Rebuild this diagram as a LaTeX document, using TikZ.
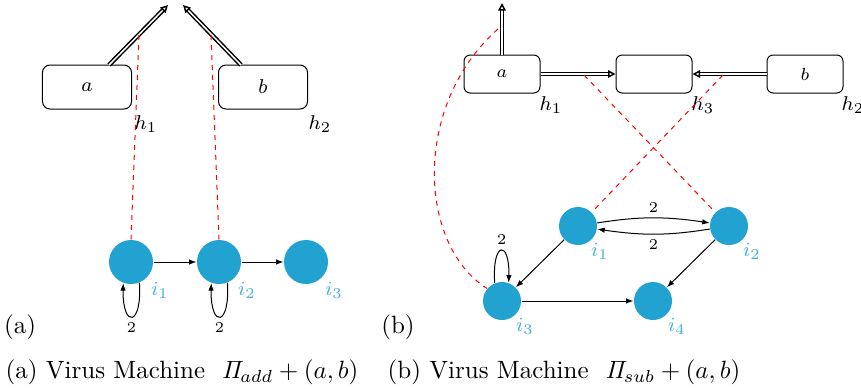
\documentclass[tikz,border=0pt]{standalone}
\usetikzlibrary{arrows.meta,bending}
\definecolor{virus}{RGB}{34,162,208}
\definecolor{virustext}{RGB}{70,175,220}
\begin{document}
\begin{tikzpicture}[x=0.4pt,y=-0.4pt,
  hostbox/.style={draw,rounded corners=3pt,minimum width=35.6pt,minimum height=17.6pt,font=\footnotesize},
  smallhost/.style={hostbox,minimum width=30.4pt,minimum height=15.2pt,rounded corners=2.5pt,font=\fontsize{7}{8}\selectfont},
  hostlabel/.style={font=\footnotesize,inner sep=0pt},
  cellA/.style={circle,fill=virus,minimum size=17.6pt,inner sep=0pt},
  cellB/.style={circle,fill=virus,minimum size=15.2pt,inner sep=0pt},
  cellname/.style={text=virustext,font=\footnotesize,inner sep=0pt},
  transfer/.style={draw,semithick,double=white,double distance=0.6pt,-{Triangle[open,length=3pt,width=3pt]}},
  flow/.style={draw,thin,-{Latex[length=3pt,width=2.2pt]}},
  weight/.style={font=\fontsize{6}{7}\selectfont,inner sep=1pt},
  link/.style={draw,red,thin,dashed,dash pattern=on 2pt off 2pt},
  captext/.style={font=\normalsize,inner sep=0pt}]
\useasboundingbox (0,0) rectangle (861,388);

% ---------- (a) addition machine ----------
\node[hostbox] (ha) at (87,87) {$a$};
\node[hostbox] (hb) at (263,87) {$b$};
\node[hostlabel] (lh1) at (146,124) {$h_1$};
\node[hostlabel] (lh2) at (320,124) {$h_2$};
\coordinate (outa) at (168,5);
\coordinate (outb) at (183,5);
\coordinate (sa) at (109,65);
\coordinate (sb) at (241,65);
\path[transfer] (sa) -- (outa);
\path[transfer] (sb) -- (outb);
\coordinate (ma) at (139,35);
\coordinate (mb) at (211,35);

\node[cellA] (a1) at (131,262) {};
\node[cellA] (a2) at (219,262) {};
\node[cellA] (a3) at (306,262) {};
\node[cellname] (la1) at (160,290) {$i_1$};
\node[cellname] (la2) at (247,290) {$i_2$};
\node[cellname] (la3) at (334,290) {$i_3$};
\draw[link] (ma) -- (a1.north);
\draw[link] (mb) -- (a2.north);
\path[flow] (a1) -- (a2);
\path[flow] (a2) -- (a3);
\path[flow] (a1.-68) .. controls +(3,46) and +(-3,46) .. node[weight,below=1pt,pos=0.5] {2} (a1.-110);
\path[flow] (a2.-68) .. controls +(3,46) and +(-3,46) .. node[weight,below=1pt,pos=0.5] {2} (a2.-110);
\node[captext] (ta) at (20,327) {(a)};
\node[captext] (capa) at (182,372) {(a) Virus Machine \ $\mathit{\Pi}_{add}+(a,b)$};

% ---------- (b) subtraction machine ----------
\node[smallhost] (hba) at (502,74) {$a$};
\node[smallhost] (hbm) at (654,74) {};
\node[smallhost] (hbb) at (805,74) {$b$};
\node[hostlabel] (lbh1) at (551,105) {$h_1$};
\node[hostlabel] (lbh3) at (703,105) {$h_3$};
\node[hostlabel] (lbh2) at (853,105) {$h_2$};
\coordinate (outc) at (502,3);
\path[transfer] (hba.north) -- (outc);
\path[transfer] (hba.east) -- (hbm.west);
\path[transfer] (hbb.west) -- (hbm.east);

\node[cellB] (b1) at (578,226) {};
\node[cellB] (b2) at (729,226) {};
\node[cellB] (b3) at (502,301) {};
\node[cellB] (b4) at (653,301) {};
\node[cellname] (lb1) at (600,251) {$i_1$};
\node[cellname] (lb2) at (752,251) {$i_2$};
\node[cellname] (lb3) at (525,326) {$i_3$};
\node[cellname] (lb4) at (677,326) {$i_4$};

\coordinate (mc) at (498,29);
\coordinate (md) at (584,75);
\coordinate (me) at (723,75);
\draw[link] (md) -- (b2.135);
\draw[link] (me) -- (b1.45);
\draw[link] (mc) .. controls (412,105) and (418,245) .. (b3.140);

\path[flow] (b1) to[bend left=9] node[weight,above=1pt] {2} (b2);
\path[flow] (b2) to[bend left=9] node[weight,below=1pt] {2} (b1);
\path[flow] (b1) -- (b3);
\path[flow] (b2) -- (b4);
\path[flow] (b3) -- (b4);
\path[flow] (b3.112) .. controls +(-3,-44) and +(3,-44) .. node[weight,above=1pt] {2} (b3.70);
\node[captext] (tb) at (398,327) {(b)};
\node[captext] (capb) at (564,372) {(b) Virus Machine \ $\mathit{\Pi}_{sub}+(a,b)$};
\end{tikzpicture}
\end{document}
